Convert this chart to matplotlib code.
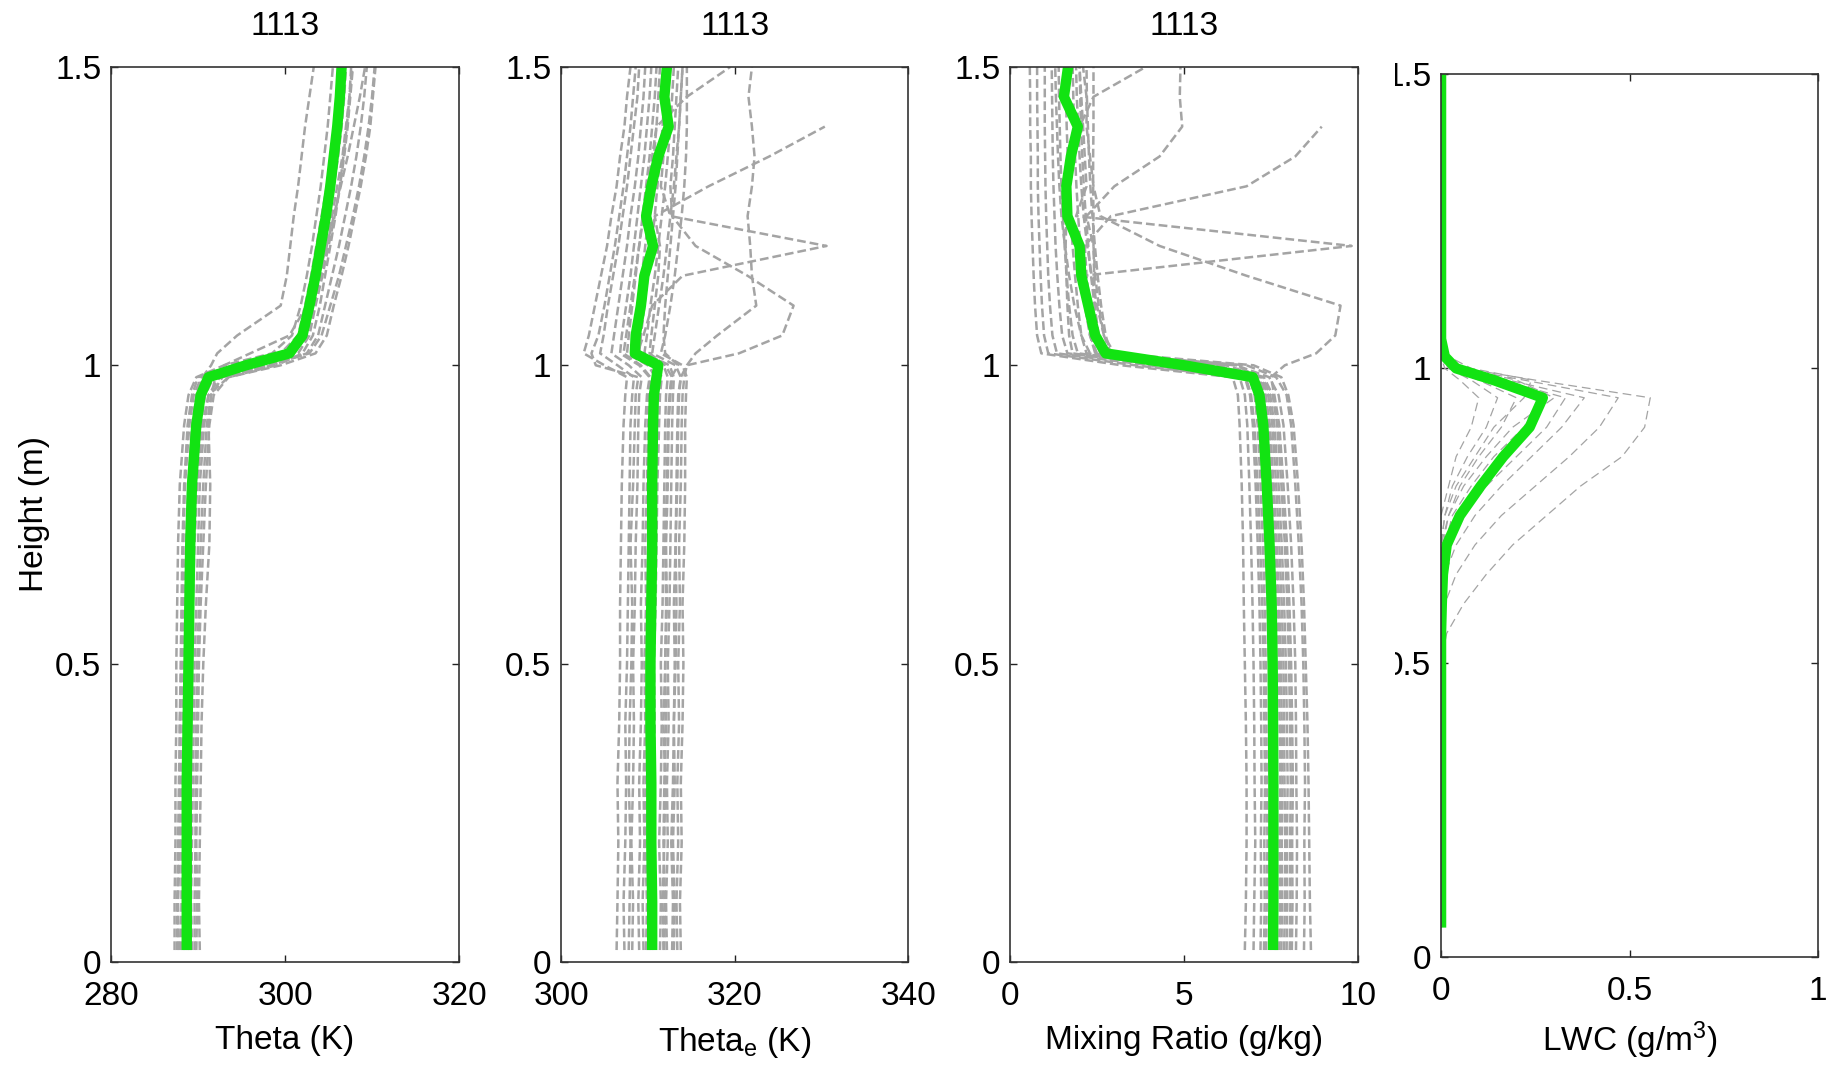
import numpy as np
import matplotlib
matplotlib.use('Agg')
import matplotlib.pyplot as plt
from matplotlib.transforms import Bbox, TransformedBbox

plt.rcParams['font.family'] = ['Liberation Sans', 'DejaVu Sans']
plt.rcParams['mathtext.default'] = 'regular'

nan = np.nan

# heights (m) shared by the theta, theta_e and mixing ratio profiles
height = [0.02, 0.1, 0.2, 0.3, 0.4, 0.5, 0.6, 0.7, 0.8, 0.9, 0.95, 0.98,
          1.0, 1.02, 1.05, 1.1, 1.15, 1.2, 1.25, 1.3, 1.35, 1.4, 1.45, 1.5]

theta_runs = [
    [287.3, 287.3, 287.4, 287.4, 287.5, 287.5, 287.6, 287.7, 287.9, 288.4, 288.9, 289.8, 293.0, 298.5, 300.8, 301.8, 302.5, 303.1, 303.6, 304.1, 304.5, 304.9, 305.2, 305.5],
    [287.8, 287.7, 287.9, 288.0, 287.9, 288.1, 288.2, 288.3, 288.5, 289.0, 289.5, 290.4, 294.5, 299.5, 301.5, 302.3, 303.0, 303.6, 304.2, 304.8, 305.3, 305.7, 306.0, 306.2],
    [288.3, 288.4, 288.4, 288.3, 288.5, 288.6, 288.7, 288.9, 289.1, 289.6, 290.2, 291.0, 296.0, 300.8, 302.2, 303.0, 303.8, 304.5, 305.1, 305.6, 306.1, 306.5, 306.8, 307.0],
    [288.8, 288.8, 288.7, 288.9, 289.0, 289.1, 289.3, 289.5, 289.8, 290.3, 290.8, 291.8, 297.0, 301.5, 302.8, 303.5, 304.3, 305.0, 305.7, 306.3, 306.8, 307.2, 307.5, 307.8],
    [289.3, 289.2, 289.3, 289.4, 289.5, 289.6, 289.8, 290.0, 290.2, 290.7, 291.2, 292.5, 298.5, 302.5, 303.8, 304.6, 305.4, 306.2, 306.9, 307.6, 308.2, 308.7, 309.1, 309.4],
    [289.8, 289.9, 289.8, 289.9, 290.0, 290.1, 290.3, 290.6, 290.9, 291.3, 291.8, 293.5, 299.5, 303.5, 304.8, 305.6, 306.5, 307.3, 308.0, 308.7, 309.3, 309.8, 310.1, 310.4],
    [290.2, 290.1, 290.2, 290.3, 290.4, 290.6, 290.9, 291.3, 291.4, 291.2, 291.5, 292.0, 293.0, 296.0, 300.5, 302.5, 303.8, 304.8, 305.6, 306.4, 307.2, 307.9, 308.6, 309.2],
    [288.0, 288.1, 288.1, 288.2, 288.2, 288.3, 288.4, 288.6, 288.9, 289.3, 289.8, 290.5, 291.5, 292.2, 294.5, 299.5, 300.2, 300.6, 301.0, 301.5, 301.9, 302.3, 302.8, 303.3],
    [289.0, 289.0, 289.1, 289.1, 289.2, 289.3, 289.4, 289.6, 289.9, 290.5, 291.2, 293.5, 299.0, 302.0, 303.2, 304.0, 304.6, 305.2, 305.8, 306.3, 306.7, 307.1, 307.4, 307.6],
    [287.6, 287.6, 287.7, 287.8, 287.9, 288.0, 288.1, 288.2, 288.4, 288.8, 289.3, 290.0, 294.0, 300.0, 301.8, 302.6, 303.3, 303.9, 304.4, 304.9, 305.3, 305.7, 306.0, 306.3],
    [288.5, 288.5, 288.5, 288.6, 288.7, 288.8, 289.0, 289.2, 289.5, 290.0, 290.6, 291.5, 296.5, 301.0, 302.5, 303.3, 304.1, 304.8, 305.4, 306.0, 306.6, 307.0, 307.4, 307.7],
    [289.6, 289.6, 289.7, 289.7, 289.8, 289.9, 290.1, 290.3, 290.6, 291.0, 291.5, 292.8, 298.0, 302.8, 304.2, 305.2, 306.2, 307.0, 307.8, 308.5, 309.1, 309.6, 310.0, 310.3],
]
theta_mean = [288.7, 288.7, 288.7, 288.7, 288.8, 288.9, 289.0, 289.1, 289.3, 289.8, 290.3, 291.2,
              295.5, 300.5, 302.0, 302.8, 303.5, 304.1, 304.7, 305.2, 305.6, 306.0, 306.3, 306.5]

thetae_runs = [
    [306.4, 306.5, 306.6, 306.5, 306.7, 306.8, 306.8, 306.9, 307.0, 307.2, 307.4, 307.6, 305.0, 302.6, 303.2, 303.9, 304.6, 305.3, 305.8, 306.4, 306.8, 307.3, 307.6, 308.0],
    [307.3, 307.2, 307.4, 307.5, 307.4, 307.6, 307.7, 307.8, 307.9, 308.0, 308.2, 308.4, 306.5, 304.5, 304.9, 305.4, 306.0, 306.6, 307.1, 307.6, 308.0, 308.4, 308.8, 309.0],
    [308.2, 308.3, 308.1, 308.3, 308.4, 308.3, 308.5, 308.6, 308.8, 308.9, 309.0, 309.3, 307.8, 305.8, 306.1, 306.6, 307.1, 307.6, 308.0, 308.5, 308.9, 309.2, 309.5, 309.7],
    [309.0, 308.9, 309.1, 309.0, 309.2, 309.3, 309.2, 309.4, 309.5, 309.7, 309.9, 310.2, 309.0, 306.8, 307.0, 307.5, 308.0, 308.4, 308.8, 309.2, 309.6, 309.9, 310.2, 310.4],
    [309.8, 309.9, 309.7, 309.8, 309.9, 310.0, 310.1, 310.2, 310.3, 310.5, 310.6, 310.9, 310.0, 307.6, 307.8, 308.2, 308.6, 309.0, 309.4, 309.8, 310.2, 310.5, 310.8, 311.0],
    [310.6, 310.5, 310.7, 310.6, 310.8, 310.7, 310.9, 311.0, 311.1, 311.3, 311.4, 311.6, 311.0, 308.3, 308.5, 308.9, 309.3, 309.7, 310.1, 310.4, 310.7, 311.0, 311.2, 311.4],
    [311.4, 311.5, 311.3, 311.5, 311.6, 311.5, 311.7, 311.8, 311.9, 312.0, 312.1, 312.3, 311.8, 309.0, 309.2, 309.6, 310.0, 310.4, 310.8, 311.1, 311.4, 311.7, 311.9, 312.0],
    [312.2, 312.1, 312.3, 312.2, 312.4, 312.3, 312.5, 312.6, 312.7, 312.8, 312.9, 313.0, 312.5, 309.6, 309.9, 310.3, 310.8, 311.2, 311.6, 312.0, 312.3, 312.6, 312.8, 313.0],
    [313.0, 313.1, 312.9, 313.1, 313.0, 313.2, 313.3, 313.2, 313.4, 313.5, 313.6, 313.8, 313.2, 310.5, 310.8, 311.3, 311.8, 312.2, 312.6, 313.0, 313.3, 313.6, 313.8, 314.0],
    [313.8, 313.7, 313.9, 313.8, 314.0, 314.1, 314.0, 314.2, 314.3, 314.3, 314.4, 314.5, 314.0, 311.5, 312.0, 312.6, 313.1, 313.5, 313.9, 314.2, 314.4, 314.5, 314.5, 314.5],
    [307.8, 307.9, 308.0, 307.8, 307.9, 308.1, 308.2, 308.0, 308.3, 308.5, 308.6, 308.9, 304.0, 303.5, 304.3, 305.0, 305.6, 306.2, 306.7, 307.2, 307.6, 308.0, 308.3, 308.6],
    [311.8, 311.7, 311.9, 312.0, 311.8, 312.0, 312.1, 312.0, 312.2, 312.3, 312.5, 312.7, 313.5, 312.0, 311.8, 312.0, 312.3, 312.6, 312.9, 313.2, 313.4, 313.6, 313.8, 314.0],
    # profiles that stick out above the inversion
    [312.8, 312.9, 312.7, 312.9, 313.0, 313.1, 313.0, 313.2, 313.3, 313.4, 313.5, 313.8, 314.5, 315.5, 318.0, 322.5, 322.0, 321.8, 321.5, 322.0, 322.3, 322.0, 321.6, 322.0],
    [311.9, 312.0, 311.8, 311.9, 312.1, 312.0, 312.2, 312.1, 312.3, 312.4, 312.6, 312.8, 312.0, 310.2, 310.4, 310.8, 311.2, 311.4, 310.8, 317.0, 324.0, 330.4, nan, nan],
    [310.2, 310.3, 310.1, 310.2, 310.4, 310.3, 310.5, 310.4, 310.6, 310.7, 310.8, 311.0, 310.8, 308.8, 309.5, 310.5, 314.0, 330.6, 312.6, 311.5, 311.8, 312.0, 312.3, 312.6],
    [313.4, 313.3, 313.5, 313.4, 313.6, 313.5, 313.7, 313.6, 313.8, 313.9, 314.0, 314.2, 314.5, 320.5, 325.5, 326.8, 321.5, 315.5, 312.8, 312.6, 312.9, 313.1, 313.3, 313.5],
    [309.5, 309.4, 309.6, 309.5, 309.7, 309.6, 309.8, 309.7, 309.9, 310.0, 310.1, 310.3, 309.2, 307.2, 307.5, 308.0, 308.5, 309.0, 309.5, 310.0, 310.5, 311.0, 314.5, 319.5],
]
thetae_mean = [310.5, 310.5, 310.4, 310.4, 310.3, 310.3, 310.4, 310.5, 310.5, 310.6, 310.7, 311.0,
               311.2, 308.5, 308.6, 309.2, 309.6, 310.6, 309.8, 310.4, 311.2, 312.4, 311.9, 312.2]

mixr_runs = [
    [6.75, 6.78, 6.80, 6.80, 6.78, 6.75, 6.72, 6.70, 6.66, 6.60, 6.55, 6.40, 3.20, 0.90, 0.78, 0.72, 0.68, 0.65, 0.62, 0.60, 0.60, 0.58, 0.58, 0.57],
    [7.00, 7.02, 7.05, 7.03, 7.02, 7.00, 6.97, 6.93, 6.88, 6.82, 6.75, 6.60, 3.60, 1.10, 0.98, 0.92, 0.88, 0.85, 0.82, 0.80, 0.80, 0.79, 0.78, 0.78],
    [7.20, 7.22, 7.21, 7.23, 7.22, 7.20, 7.17, 7.12, 7.06, 6.98, 6.90, 6.75, 4.00, 1.35, 1.22, 1.15, 1.10, 1.07, 1.04, 1.02, 1.01, 1.00, 1.00, 1.00],
    [7.36, 7.38, 7.40, 7.38, 7.37, 7.35, 7.32, 7.27, 7.20, 7.12, 7.03, 6.88, 4.50, 1.65, 1.50, 1.42, 1.36, 1.31, 1.28, 1.25, 1.23, 1.22, 1.21, 1.20],
    [7.50, 7.52, 7.51, 7.53, 7.52, 7.50, 7.46, 7.40, 7.33, 7.24, 7.14, 6.95, 4.90, 1.95, 1.80, 1.70, 1.63, 1.57, 1.52, 1.48, 1.45, 1.43, 1.41, 1.40],
    [7.62, 7.64, 7.65, 7.63, 7.62, 7.60, 7.56, 7.50, 7.42, 7.33, 7.22, 7.04, 5.30, 2.20, 2.05, 1.95, 1.87, 1.80, 1.74, 1.70, 1.66, 1.63, 1.61, 1.60],
    [7.74, 7.76, 7.75, 7.77, 7.75, 7.73, 7.69, 7.62, 7.54, 7.44, 7.32, 7.12, 5.60, 2.45, 2.30, 2.20, 2.10, 2.02, 1.96, 1.91, 1.87, 1.84, 1.82, 1.80],
    [7.88, 7.90, 7.91, 7.89, 7.88, 7.86, 7.81, 7.74, 7.65, 7.54, 7.42, 7.20, 5.90, 2.70, 2.55, 2.43, 2.33, 2.25, 2.18, 2.12, 2.08, 2.04, 2.02, 2.00],
    [8.04, 8.06, 8.05, 8.07, 8.05, 8.02, 7.97, 7.90, 7.80, 7.68, 7.55, 7.30, 6.20, 2.90, 2.75, 2.62, 2.52, 2.44, 2.37, 2.31, 2.27, 2.24, 2.21, 2.20],
    [8.22, 8.24, 8.25, 8.23, 8.22, 8.20, 8.15, 8.08, 7.98, 7.86, 7.72, 7.45, 6.50, 2.60, 2.50, 2.45, 2.42, 2.40, 2.40, 2.39, 2.39, 2.40, 2.40, 2.40],
    [8.45, 8.47, 8.46, 8.48, 8.46, 8.43, 8.38, 8.30, 8.20, 8.08, 7.95, 7.65, 6.80, 2.30, 2.05, 1.85, 1.70, 1.58, 1.48, 1.42, 1.38, 1.35, 1.32, 1.30],
    [8.65, 8.62, 8.60, 8.58, 8.55, 8.50, 8.45, 8.38, 8.28, 8.15, 8.00, 7.80, 7.00, 3.00, 2.70, 2.50, 2.35, 2.22, 2.12, 2.05, 2.00, 1.96, 1.92, 1.90],
    # profiles that stick out above the inversion
    [7.95, 7.97, 7.96, 7.98, 7.96, 7.93, 7.88, 7.81, 7.72, 7.60, 7.48, 7.25, 5.80, 2.90, 2.70, 2.55, 2.45, 2.40, 2.20, 3.00, 4.30, 4.95, 4.88, 4.90],
    [7.45, 7.47, 7.46, 7.48, 7.46, 7.44, 7.40, 7.34, 7.27, 7.18, 7.08, 6.90, 6.00, 2.60, 2.40, 2.30, 2.20, 2.15, 2.90, 6.80, 8.20, 8.96, nan, nan],
    [7.80, 7.82, 7.81, 7.83, 7.81, 7.79, 7.74, 7.67, 7.58, 7.47, 7.35, 7.15, 6.50, 2.50, 2.30, 2.15, 2.10, 9.82, 1.90, 2.20, 2.15, 2.10, 2.05, 2.00],
    [8.10, 8.12, 8.11, 8.13, 8.11, 8.08, 8.03, 7.96, 7.86, 7.74, 7.60, 7.50, 7.90, 8.80, 9.35, 9.50, 6.80, 4.30, 2.60, 2.40, 2.30, 2.20, 2.20, 2.10],
    [7.30, 7.32, 7.31, 7.33, 7.31, 7.29, 7.25, 7.19, 7.12, 7.03, 6.93, 6.78, 4.20, 1.80, 1.70, 1.65, 1.62, 1.60, 1.62, 1.68, 1.80, 2.00, 2.40, 3.90],
]
mixr_mean = [7.56, 7.57, 7.57, 7.57, 7.56, 7.55, 7.52, 7.46, 7.38, 7.28, 7.17, 6.98,
             5.00, 2.75, 2.45, 2.25, 2.05, 2.00, 1.65, 1.62, 1.75, 1.95, 1.55, 1.67]

# liquid water content has its own height levels
lwc_height = [0.05, 0.5, 0.55, 0.6, 0.65, 0.7, 0.75, 0.8, 0.85, 0.9, 0.95, 0.98, 1.0, 1.02, 1.05, 1.5]
lwc_runs = [
    [0, 0, 0.015, 0.06, 0.12, 0.19, 0.28, 0.37, 0.48, 0.54, 0.555, 0.25, 0.06, 0.01, 0, 0],
    [0, 0, 0, 0.01, 0.04, 0.09, 0.16, 0.25, 0.34, 0.42, 0.47, 0.22, 0.05, 0.01, 0, 0],
    [0, 0, 0, 0, 0.01, 0.04, 0.09, 0.16, 0.24, 0.32, 0.38, 0.18, 0.04, 0.01, 0, 0],
    [0, 0, 0, 0, 0, 0.02, 0.06, 0.12, 0.20, 0.28, 0.33, 0.16, 0.03, 0, 0, 0],
    [0, 0, 0, 0, 0, 0.01, 0.03, 0.08, 0.14, 0.22, 0.26, 0.13, 0.03, 0, 0, 0],
    [0, 0, 0, 0, 0, 0, 0.02, 0.05, 0.10, 0.16, 0.20, 0.10, 0.02, 0, 0, 0],
    [0, 0, 0, 0, 0, 0, 0.01, 0.03, 0.07, 0.12, 0.15, 0.08, 0.02, 0, 0, 0],
    [0, 0, 0, 0, 0, 0, 0, 0.02, 0.04, 0.08, 0.10, 0.05, 0.01, 0, 0, 0],
    [0, 0, 0, 0, 0, 0.005, 0.02, 0.06, 0.12, 0.19, 0.30, 0.20, 0.06, 0.02, 0, 0],
    [0, 0, 0, 0, 0, 0, 0.01, 0.04, 0.09, 0.14, 0.22, 0.24, 0.08, 0.02, 0, 0],
]
lwc_mean = [0, 0, 0, 0.002, 0.005, 0.015, 0.05, 0.105, 0.165, 0.235, 0.27, 0.14, 0.04, 0.01, 0, 0]

height_ticks = [0, 0.5, 1, 1.5]
height_ticklabels = ['0', '0.5', '1', '1.5']
theta_ticks = [280, 300, 320]
thetae_ticks = [300, 320, 340]
mixr_ticks = [0, 5, 10]
lwc_ticks = [0, 0.5, 1]
lwc_ticklabels = ['0', '0.5', '1']

GRAY = '#a4a4a4'
GREEN = '#12e312'
FS = 24


def style_axis(ax, xlim, xticks, xticklabels, xlabel):
    ax.set_xlim(xlim)
    ax.set_ylim(0, 1.5)
    ax.set_xticks(xticks, xticklabels)
    ax.set_yticks(height_ticks, height_ticklabels)
    ax.tick_params(direction='in', length=5, width=1, top=True, right=True,
                   labelsize=FS, color='#222222')
    ax.tick_params(axis='x', pad=14)
    ax.tick_params(axis='y', pad=7)
    ax.set_xlabel(xlabel, fontsize=FS, labelpad=9)
    for sp in ax.spines.values():
        sp.set_color('#333333')
        sp.set_linewidth(1.2)


def plot_panel(ax, runs, mean, z, lw_gray, dash):
    for run in runs:
        ax.plot(run, z, color=GRAY, lw=lw_gray, linestyle=(0, dash))
    ax.plot(mean, z, color=GREEN, lw=7.5, solid_capstyle='butt')


fig = plt.figure(figsize=(18.39, 10.71), dpi=100)

ax1 = fig.add_axes([0.0604, 0.1018, 0.1892, 0.8357])
ax2 = fig.add_axes([0.3051, 0.1018, 0.1887, 0.8357])
ax3 = fig.add_axes([0.5492, 0.1018, 0.1892, 0.8357])
ax4 = fig.add_axes([0.7836, 0.1064, 0.2050, 0.8245])

plot_panel(ax1, theta_runs, theta_mean, height, 1.8, (3.5, 1.6))
style_axis(ax1, (280, 320), theta_ticks, [str(t) for t in theta_ticks], 'Theta (K)')
ax1.set_ylabel('Height (m)', fontsize=FS, labelpad=4)
ax1.set_title('1113', fontsize=FS, pad=23)

plot_panel(ax2, thetae_runs, thetae_mean, height, 1.8, (3.5, 1.6))
style_axis(ax2, (300, 340), thetae_ticks, [str(t) for t in thetae_ticks], 'Theta$_e$ (K)')
ax2.set_title('1113', fontsize=FS, pad=23)

plot_panel(ax3, mixr_runs, mixr_mean, height, 1.8, (3.5, 1.6))
style_axis(ax3, (0, 10), mixr_ticks, [str(t) for t in mixr_ticks], 'Mixing Ratio (g/kg)')
ax3.set_title('1113', fontsize=FS, pad=23)

plot_panel(ax4, lwc_runs, lwc_mean, lwc_height, 0.9, (7, 4))
style_axis(ax4, (0, 1), lwc_ticks, lwc_ticklabels, 'LWC (g/m$^3$)')

# the height labels of the last panel are cut on their left side
clip = TransformedBbox(Bbox([[1395 / 1839, 0], [1, 1]]), fig.transFigure)
for tick in ax4.yaxis.get_major_ticks():
    tick.label1.set_clip_on(True)
    tick.label1.set_clip_box(clip)

fig.savefig('out.png', dpi=100)
